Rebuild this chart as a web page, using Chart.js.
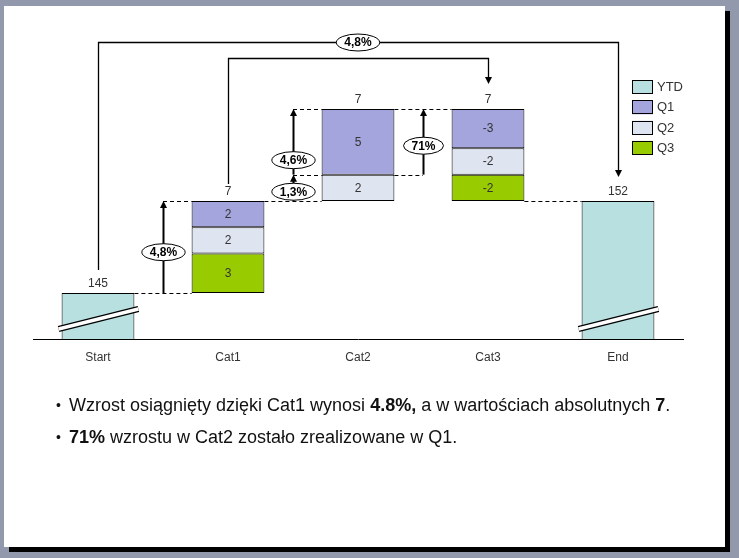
<!DOCTYPE html>
<html>
<head>
<meta charset="utf-8">
<script src="https://cdn.jsdelivr.net/npm/chart.js@4.4.1/dist/chart.umd.min.js"></script>
<style>
  html, body { margin: 0; padding: 0; width: 739px; height: 558px; overflow: hidden; background: #9299ad; }
  #slide { position: absolute; left: 4px; top: 6px; width: 721px; height: 541px; background: #fff; box-shadow: 5px 5px 0 #000; }
  #chart { position: absolute; left: 0; top: 0; }
  .note { position: absolute; left: 69px; font: 18px "Liberation Sans", Arial, sans-serif; color: #111; line-height: 22px; white-space: nowrap; }
  .note:before { content: "\2022"; position: absolute; left: -13px; font-size: 14px; }
</style>
</head>
<body>
<div id="slide"></div>
<canvas id="chart" width="739" height="558"></canvas>
<div class="note" style="top:394px">Wzrost osiągnięty dzięki Cat1 wynosi <b>4.8%,</b> a w wartościach absolutnych <b>7</b>.</div>
<div class="note" style="top:426px"><b>71%</b> wzrostu w Cat2 zostało zrealizowane w Q1.</div>
<script>
const categories = ['Start', 'Cat1', 'Cat2', 'Cat3', 'End'];
const ytd = [145, null, null, null, 152];
const q1 = [null, 2, 5, -3, null];
const q2 = [null, 2, 2, -2, null];
const q3 = [null, 3, 0, -2, null];
const totals = ['145', '7', '7', '7', '152'];

// growth arrows drawn in the gap after a category
const growthAfter = [0, 1, 1, 2];
const growthFrom = [145, 152, 154, 154];
const growthTo = [152, 154, 159, 159];
const growthLabels = ['4,8%', '1,3%', '4,6%', '71%'];
const growthLabelAt = [148.1, 152.7, 155.1, 156.2];

const totalGrowth = '4,8%';

const colors = { YTD: '#b8e0e1', Q1: '#a5a5dd', Q2: '#dee4f0', Q3: '#99cc00' };
const FONT = '"Liberation Sans", Arial, sans-serif';

// build waterfall ranges from the values
const q1Bars = [], q2Bars = [], q3Bars = [], topValue = [];
let level = ytd[0];
categories.forEach((c, i) => {
  if (ytd[i] !== null) {
    q1Bars.push(null); q2Bars.push(null); q3Bars.push(null);
    level = ytd[i];
    topValue.push(ytd[i]);
    return;
  }
  const parts = [q1[i], q2[i], q3[i]];
  const sum = parts.reduce((a, b) => a + b, 0);
  const order = sum >= 0 ? [2, 1, 0] : [0, 1, 2];
  const out = [null, null, null];
  let top = level;
  order.forEach(k => {
    const v = parts[k];
    if (v) { out[k] = [level, level + v]; level += v; top = Math.max(top, level); }
  });
  topValue.push(Math.max(top, out.reduce((m, r) => r ? Math.max(m, r[0], r[1]) : m, -Infinity)));
  q1Bars.push(out[0]); q2Bars.push(out[1]); q3Bars.push(out[2]);
});

function arrowHead(ctx, x, y, dir) {
  ctx.beginPath();
  ctx.moveTo(x, y);
  ctx.lineTo(x - 3.5, y - dir * 7);
  ctx.lineTo(x + 3.5, y - dir * 7);
  ctx.closePath();
  ctx.fill();
}

function oval(ctx, cx, cy, text) {
  ctx.font = 'bold 12px ' + FONT;
  const rx = ctx.measureText(text).width / 2 + 8;
  ctx.beginPath();
  ctx.ellipse(cx, cy, rx, 8.5, 0, 0, Math.PI * 2);
  ctx.fillStyle = '#fff';
  ctx.fill();
  ctx.lineWidth = 1;
  ctx.strokeStyle = '#000';
  ctx.stroke();
  ctx.fillStyle = '#000';
  ctx.textAlign = 'center';
  ctx.textBaseline = 'middle';
  ctx.fillText(text, cx, cy + 0.5);
}

function dashed(ctx, x0, x1, yy) {
  ctx.save();
  ctx.setLineDash([4, 3]);
  ctx.lineWidth = 1;
  ctx.strokeStyle = '#000';
  ctx.beginPath();
  ctx.moveTo(x0, Math.round(yy) + 0.5);
  ctx.lineTo(x1, Math.round(yy) + 0.5);
  ctx.stroke();
  ctx.restore();
}

const notesPlugin = {
  id: 'waterfallNotes',
  afterDatasetsDraw(chart) {
    const { ctx, chartArea, scales: { x, y } } = chart;
    const half = chart.getDatasetMeta(0).data[0].width / 2;
    const cx = i => x.getPixelForValue(i);
    const left = i => cx(i) - half;
    const right = i => cx(i) + half;
    const gap = i => (cx(i) + cx(i + 1)) / 2;
    ctx.save();

    // axis break marks on YTD bars
    ytd.forEach((v, i) => {
      if (v === null) return;
      ctx.lineCap = 'butt';
      ctx.beginPath();
      ctx.moveTo(left(i) - 3, chartArea.bottom - 10);
      ctx.lineTo(right(i) + 4, chartArea.bottom - 30);
      ctx.strokeStyle = '#000';
      ctx.lineWidth = 6;
      ctx.stroke();
      ctx.strokeStyle = '#fff';
      ctx.lineWidth = 3.5;
      ctx.stroke();
    });

    // segment values
    ctx.font = '12px ' + FONT;
    ctx.fillStyle = '#333';
    ctx.textAlign = 'center';
    ctx.textBaseline = 'middle';
    [[q1, q1Bars], [q2, q2Bars], [q3, q3Bars]].forEach(([vals, bars]) => {
      bars.forEach((r, i) => {
        if (!r) return;
        ctx.fillText(String(vals[i]), cx(i), (y.getPixelForValue(r[0]) + y.getPixelForValue(r[1])) / 2 + 0.5);
      });
    });

    // totals above bars
    totals.forEach((t, i) => {
      ctx.fillText(t, cx(i), y.getPixelForValue(topValue[i]) - 9);
    });

    // dashed connectors
    dashed(ctx, right(0), left(1), y.getPixelForValue(145));
    dashed(ctx, gap(0), left(1), y.getPixelForValue(152));
    dashed(ctx, right(1), left(2), y.getPixelForValue(152));
    dashed(ctx, right(3), left(4), y.getPixelForValue(152));
    dashed(ctx, gap(1), left(2), y.getPixelForValue(154));
    dashed(ctx, right(2), gap(2), y.getPixelForValue(154));
    dashed(ctx, gap(1), left(2), y.getPixelForValue(159));
    dashed(ctx, right(2), left(3), y.getPixelForValue(159));

    // growth arrows
    ctx.strokeStyle = '#000';
    ctx.fillStyle = '#000';
    growthAfter.forEach((g, k) => {
      const ax = Math.round(gap(g)) + 0.5;
      const y0 = y.getPixelForValue(growthFrom[k]);
      const y1 = y.getPixelForValue(growthTo[k]);
      ctx.lineWidth = 2;
      ctx.beginPath();
      ctx.moveTo(ax, y0);
      ctx.lineTo(ax, y1 + 5);
      ctx.stroke();
      arrowHead(ctx, ax, y1, -1);
    });
    growthAfter.forEach((g, k) => {
      oval(ctx, Math.round(gap(g)) + 0.5, y.getPixelForValue(growthLabelAt[k]), growthLabels[k]);
    });

    // brackets across the top
    const outerY = chartArea.top + 12.5;
    const innerY = chartArea.top + 28.5;
    ctx.lineWidth = 1.3;
    ctx.strokeStyle = '#000';
    ctx.fillStyle = '#000';
    ctx.beginPath();
    ctx.moveTo(Math.round(cx(0)) + 0.5, y.getPixelForValue(topValue[0]) - 23);
    ctx.lineTo(Math.round(cx(0)) + 0.5, outerY);
    ctx.lineTo(Math.round(cx(4)) + 0.5, outerY);
    ctx.lineTo(Math.round(cx(4)) + 0.5, y.getPixelForValue(topValue[4]) - 28);
    ctx.stroke();
    arrowHead(ctx, Math.round(cx(4)) + 0.5, y.getPixelForValue(topValue[4]) - 24, 1);
    ctx.beginPath();
    ctx.moveTo(Math.round(cx(1)) + 0.5, y.getPixelForValue(topValue[1]) - 17);
    ctx.lineTo(Math.round(cx(1)) + 0.5, innerY);
    ctx.lineTo(Math.round(cx(3)) + 0.5, innerY);
    ctx.lineTo(Math.round(cx(3)) + 0.5, y.getPixelForValue(topValue[3]) - 29);
    ctx.stroke();
    arrowHead(ctx, Math.round(cx(3)) + 0.5, y.getPixelForValue(topValue[3]) - 25, 1);
    oval(ctx, (cx(0) + cx(4)) / 2, outerY, totalGrowth);

    // legend
    ctx.font = '13px ' + FONT;
    ctx.textAlign = 'left';
    ctx.textBaseline = 'middle';
    chart.data.datasets.forEach((ds, k) => {
      const ly = 80 + k * 20.3;
      ctx.fillStyle = ds.backgroundColor;
      ctx.fillRect(632, ly, 21, 14);
      ctx.lineWidth = 1;
      ctx.strokeStyle = '#000';
      ctx.strokeRect(632.5, Math.round(ly) + 0.5, 20, 13);
      ctx.fillStyle = '#333';
      ctx.fillText(ds.label, 657, ly + 7.5);
    });
    ctx.restore();
  }
};

const barStyle = { borderColor: '#000', borderWidth: 1, borderSkipped: false, grouped: false };

new Chart(document.getElementById('chart'), {
  type: 'bar',
  data: {
    labels: categories,
    datasets: [
      { label: 'YTD', data: ytd, backgroundColor: colors.YTD, ...barStyle },
      { label: 'Q1', data: q1Bars, backgroundColor: colors.Q1, ...barStyle },
      { label: 'Q2', data: q2Bars, backgroundColor: colors.Q2, ...barStyle },
      { label: 'Q3', data: q3Bars, backgroundColor: colors.Q3, ...barStyle }
    ]
  },
  options: {
    responsive: false,
    animation: false,
    devicePixelRatio: 1,
    categoryPercentage: 1,
    barPercentage: 0.56,
    layout: { padding: { left: 33, right: 56, top: 30, bottom: 190.6 } },
    plugins: { legend: { display: false }, tooltip: { enabled: false } },
    scales: {
      x: {
        grid: { display: false },
        border: { display: true, color: '#000', width: 1 },
        ticks: { color: '#333', padding: 3, font: { family: FONT, size: 12 } }
      },
      y: { display: false, min: 141.5, max: 165 }
    }
  },
  plugins: [notesPlugin]
});
</script>
</body>
</html>
